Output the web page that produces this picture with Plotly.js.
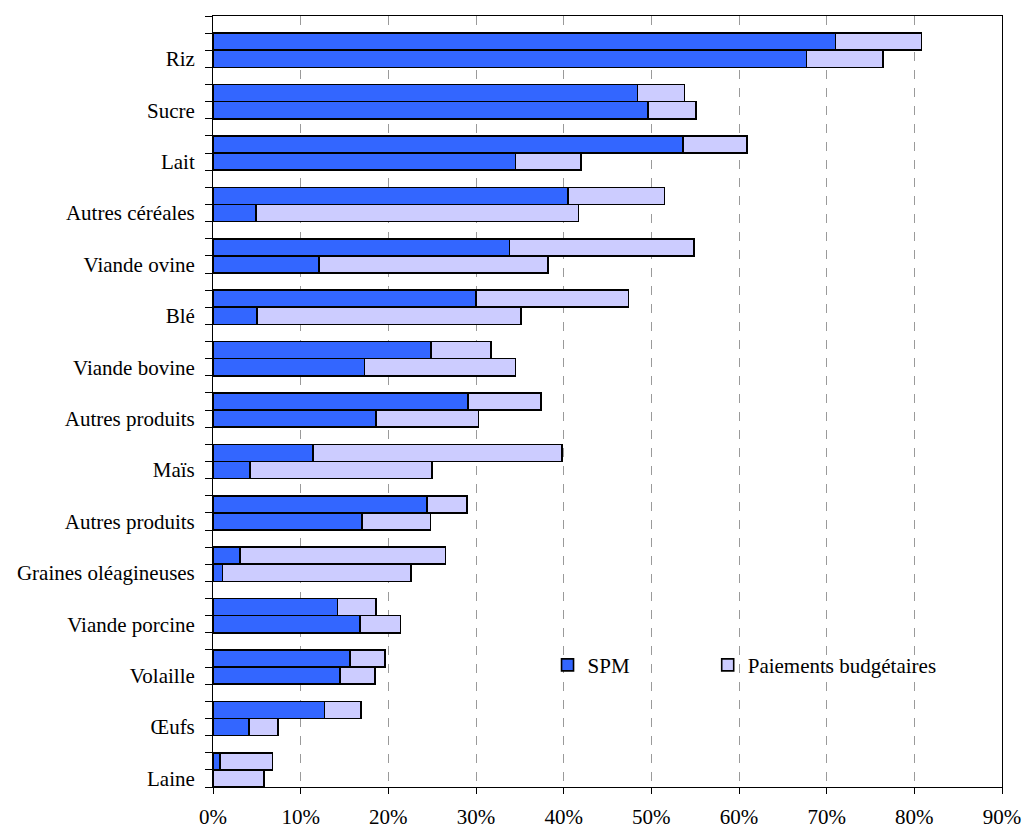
<!DOCTYPE html>
<html>
<head>
<meta charset="utf-8">
<script src="https://cdn.plot.ly/plotly-3.0.1.min.js"></script>
<style>html,body{margin:0;padding:0;background:#fff;}#chart{width:1024px;height:828px;}</style>
</head>
<body>
<div id="chart"></div>
<script>
// Categories from top to bottom
const categories = ["Riz", "Sucre", "Lait", "Autres céréales", "Viande ovine", "Blé",
  "Viande bovine", "Autres produits", "Maïs", "Autres produits", "Graines oléagineuses",
  "Viande porcine", "Volaille", "Œufs", "Laine"];

// Upper bar of each pair (% share)
const spmUpper    = [71.0, 48.4, 53.6, 40.5, 33.8, 30.0, 24.9, 29.1, 11.4, 24.4, 3.1, 14.2, 15.6, 12.7, 0.8];
const budgetUpper = [ 9.8,  5.4,  7.3, 11.0, 21.1, 17.4,  6.8,  8.3, 28.4,  4.6, 23.4, 4.4,  4.0,  4.2, 6.0];
// Lower bar of each pair (% share)
const spmLower    = [67.7, 49.6, 34.5,  4.9, 12.1,  5.0, 17.3, 18.6,  4.2, 17.0, 1.1, 16.8, 14.5,  4.1, 0.0];
const budgetLower = [ 8.7,  5.5,  7.5, 36.8, 26.1, 30.1, 17.2, 11.7, 20.8,  7.8, 21.5,  4.6,  4.0,  3.3, 5.8];

const xTickVals = [0, 10, 20, 30, 40, 50, 60, 70, 80, 90];
const xTickText = ["0%", "10%", "20%", "30%", "40%", "50%", "60%", "70%", "80%", "90%"];

const n = categories.length;
// slot positions: each category has a gap slot, an upper bar slot and a lower bar slot
const yUpper = [], yLower = [], yLabel = [];
for (let i = 0; i < n; i++) {
  const k = n - 1 - i;
  yUpper.push(3 * k + 1.5);
  yLower.push(3 * k + 0.5);
  yLabel.push(3 * k + 0.5);
}
const yAll = yUpper.concat(yLower);
const spmAll = spmUpper.concat(spmLower);
const budAll = budgetUpper.concat(budgetLower);

const font = {family: "'Liberation Serif', 'Times New Roman', serif", size: 21, color: "#000"};
const outline = {color: "#000", width: 1.6};

const traces = [
  {type: "bar", orientation: "h", name: "SPM", x: spmAll, y: yAll, width: 1,
   marker: {color: "#3366FF", line: outline}, hoverinfo: "x+name", legend: "legend"},
  {type: "bar", orientation: "h", name: "Paiements budgétaires", x: budAll, y: yAll, width: 1,
   marker: {color: "#CCCCFF", line: outline}, hoverinfo: "x+name", legend: "legend2"}
];

const legendBase = {orientation: "h", y: 0.158, xanchor: "left", yanchor: "middle",
  font: font, bgcolor: "rgba(0,0,0,0)", itemclick: false};

const layout = {
  width: 1024, height: 828,
  margin: {l: 213, r: 22, t: 16, b: 41},
  paper_bgcolor: "#fff", plot_bgcolor: "#fff",
  barmode: "stack", bargap: 0,
  font: font,
  showlegend: true,
  legend: Object.assign({}, legendBase, {x: 0.424}),
  legend2: Object.assign({}, legendBase, {x: 0.627}),
  xaxis: {range: [0, 90], tickvals: xTickVals, ticktext: xTickText,
    showgrid: true, gridcolor: "#9a9a9a", griddash: "dash", gridwidth: 1,
    showline: true, linecolor: "#000", linewidth: 1, mirror: true,
    ticks: "outside", ticklen: 6, tickcolor: "#000", zeroline: false,
    ticklabelstandoff: 5, fixedrange: true},
  yaxis: {range: [0, 3 * n], tickvals: yLabel, ticktext: categories.slice(),
    showgrid: false, zeroline: false, showline: true, linecolor: "#000", linewidth: 1, mirror: true,
    ticks: "", ticklabelstandoff: 13,
    minor: {tick0: 0, dtick: 1, ticks: "outside", ticklen: 7, tickcolor: "#000", showgrid: false},
    fixedrange: true}
};

Plotly.newPlot("chart", traces, layout, {displayModeBar: false, staticPlot: true});
</script>
</body>
</html>
